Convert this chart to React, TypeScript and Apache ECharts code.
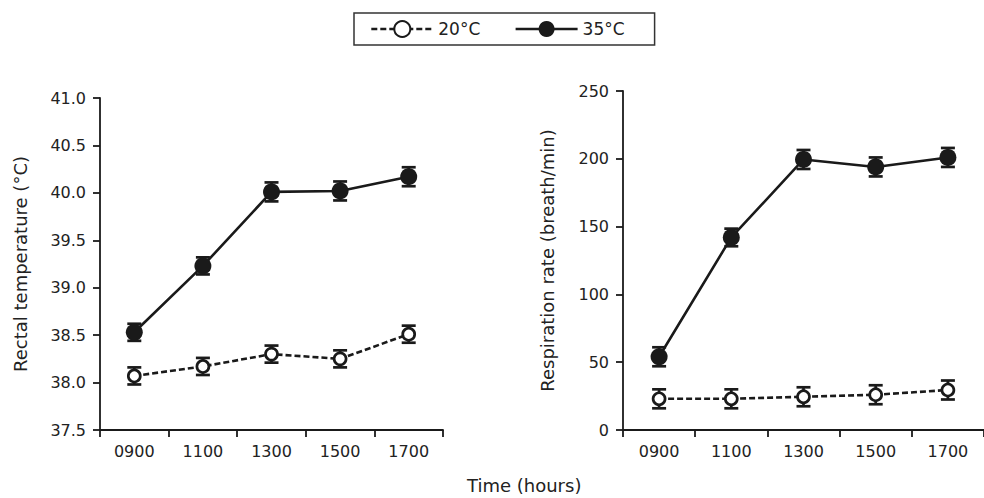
import React, { useEffect, useRef } from "react";
import * as echarts from "echarts";

const times = ["0900", "1100", "1300", "1500", "1700"];
const seriesNames = ["20°C", "35°C"];

const rectal20 = [38.07, 38.17, 38.3, 38.25, 38.51];
const rectal20Err = [0.09, 0.09, 0.09, 0.09, 0.09];
const rectal35 = [38.53, 39.23, 40.01, 40.02, 40.17];
const rectal35Err = [0.09, 0.09, 0.1, 0.1, 0.1];

const resp20 = [23, 23, 24.5, 26, 29.5];
const resp20Err = [7, 7, 7, 7, 7];
const resp35 = [54, 142, 199.5, 194, 201];
const resp35Err = [7, 6.5, 7, 7, 7];

const FONT = "DejaVu Sans";
const INK = "#1a1a1a";

function errData(mean: number[], err: number[]) {
  return mean.map((m, i) => [i, m - err[i], m + err[i]]);
}

function errSeries(name: string, idx: number, mean: number[], err: number[]) {
  return {
    type: "custom",
    name,
    xAxisIndex: idx,
    yAxisIndex: idx,
    z: 1,
    silent: true,
    data: errData(mean, err),
    encode: { x: 0, y: [1, 2] },
    renderItem: (params: any, api: any) => {
      const x = api.value(0);
      const lo = api.coord([x, api.value(1)]);
      const hi = api.coord([x, api.value(2)]);
      const hw = 7;
      const st = { stroke: INK, lineWidth: 2.7 };
      return {
        type: "group",
        children: [
          { type: "line", shape: { x1: lo[0], y1: lo[1], x2: hi[0], y2: hi[1] }, style: st },
          { type: "line", shape: { x1: lo[0] - hw, y1: lo[1], x2: lo[0] + hw, y2: lo[1] }, style: st },
          { type: "line", shape: { x1: hi[0] - hw, y1: hi[1], x2: hi[0] + hw, y2: hi[1] }, style: st },
        ],
      };
    },
  };
}

function openSeries(idx: number, data: number[]) {
  return {
    type: "line",
    name: seriesNames[0],
    xAxisIndex: idx,
    yAxisIndex: idx,
    z: 3,
    data,
    symbol: "circle",
    symbolSize: 12,
    itemStyle: { color: "#ffffff", borderColor: INK, borderWidth: 2.7 },
    lineStyle: { color: INK, width: 2.6, type: [6, 3] },
    color: INK,
  };
}

function filledSeries(idx: number, data: number[]) {
  return {
    type: "line",
    name: seriesNames[1],
    xAxisIndex: idx,
    yAxisIndex: idx,
    z: 3,
    data,
    symbol: "circle",
    symbolSize: 17,
    itemStyle: { color: INK, borderColor: INK, borderWidth: 0 },
    lineStyle: { color: INK, width: 2.6, type: "solid" },
    color: INK,
  };
}

const axisLine = { show: true, onZero: false, lineStyle: { color: INK, width: 1.8 } };
const axisTick = { show: true, length: 7, lineStyle: { color: INK, width: 1.8 } };
const labelStyle = { color: "#222", fontFamily: FONT, fontSize: 16 };

function xAxis(gridIndex: number) {
  return {
    type: "category",
    gridIndex,
    data: times,
    boundaryGap: true,
    axisLine,
    axisTick: { ...axisTick, alignWithLabel: false },
    axisLabel: { ...labelStyle, margin: 13 },
    splitLine: { show: false },
  };
}

export default function App() {
  const ref = useRef<HTMLDivElement>(null);
  useEffect(() => {
    if (!ref.current) return;
    const chart = echarts.init(ref.current, undefined, { renderer: "svg" });
    chart.setOption({
      animation: false,
      backgroundColor: "#ffffff",
      title: {
        text: "Time (hours)",
        left: 467,
        top: 476,
        padding: 0,
        textStyle: { fontFamily: FONT, fontSize: 18, fontWeight: "normal", color: "#222" },
      },
      legend: {
        data: seriesNames,
        left: 354,
        top: 13,
        orient: "horizontal",
        borderColor: "#333",
        borderWidth: 1.5,
        padding: [7, 30, 7, 16],
        itemWidth: 62,
        itemHeight: 20,
        itemGap: 34,
        lineStyle: { width: 2.6 },
        textStyle: { fontFamily: FONT, fontSize: 17, color: "#222" },
        selectedMode: false,
      },
      grid: [
        { left: 100, top: 98, right: 541, bottom: 68 },
        { left: 623, top: 91, right: -7, bottom: 68 },
      ],
      xAxis: [xAxis(0), xAxis(1)],
      yAxis: [
        {
          type: "value",
          gridIndex: 0,
          min: 37.5,
          max: 41,
          interval: 0.5,
          axisLine,
          axisTick,
          axisLabel: { ...labelStyle, margin: 14, formatter: (v: number) => v.toFixed(1) },
          splitLine: { show: false },
          name: "Rectal temperature (°C)",
          nameLocation: "middle",
          nameGap: 71,
          nameTextStyle: { fontFamily: FONT, fontSize: 18, color: "#222" },
        },
        {
          type: "value",
          gridIndex: 1,
          min: 0,
          max: 250,
          interval: 50,
          axisLine,
          axisTick,
          axisLabel: { ...labelStyle, margin: 14 },
          splitLine: { show: false },
          name: "Respiration rate (breath/min)",
          nameLocation: "middle",
          nameGap: 67,
          nameTextStyle: { fontFamily: FONT, fontSize: 18, color: "#222" },
        },
      ],
      series: [
        errSeries("err20L", 0, rectal20, rectal20Err),
        errSeries("err35L", 0, rectal35, rectal35Err),
        errSeries("err20R", 1, resp20, resp20Err),
        errSeries("err35R", 1, resp35, resp35Err),
        openSeries(0, rectal20),
        filledSeries(0, rectal35),
        openSeries(1, resp20),
        filledSeries(1, resp35),
      ],
    });
    return () => chart.dispose();
  }, []);
  return (
    <div
      ref={ref}
      style={{ position: "absolute", left: 0, top: 0, width: 984, height: 498 }}
    />
  );
}
